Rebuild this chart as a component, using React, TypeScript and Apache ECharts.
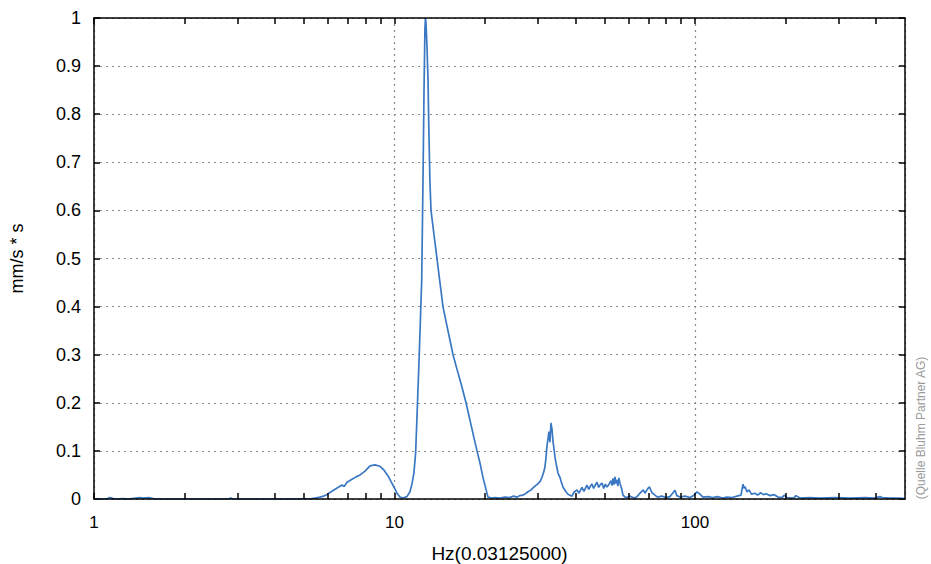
import React, { useEffect, useRef } from "react";
import * as echarts from "echarts";

// Frequency axis (log) and amplitude readings
const freqs: number[] = [
  1.0, 1.1, 1.13, 1.16, 1.2, 1.25, 1.3, 1.42, 1.46, 1.52, 1.6, 2.0, 2.8, 2.85, 2.9, 3.5, 4.5,
  5.3, 5.44, 5.65, 5.8, 5.96, 6.19, 6.44, 6.69, 6.8, 6.95, 7.22, 7.45, 7.68, 7.98, 8.29, 8.61,
  8.95, 9.23, 9.52, 9.74, 9.96, 10.19, 10.43, 10.67, 11.0, 11.26, 11.44, 11.61, 11.76, 11.88,
  12.09, 12.32, 12.44, 12.54, 12.63, 12.68, 12.73, 12.83, 12.93, 13.02, 13.12, 13.23, 13.53,
  13.85, 14.17, 14.5, 14.95, 15.3, 15.66, 16.14, 16.65, 17.3, 17.83, 18.39, 18.82, 19.25, 19.7,
  20.16, 20.47, 21.1, 21.6, 22.4, 23.3, 24.2, 24.9, 25.6, 26.1, 26.8, 27.4, 27.8, 28.5, 28.9,
  29.35, 29.8, 30.5, 30.97, 31.45, 31.68, 31.92, 32.17, 32.42, 32.66, 32.92, 33.17, 33.43,
  33.69, 33.94, 34.2, 34.47, 35.0, 35.54, 35.8, 36.37, 37.21, 37.8, 38.37, 38.96, 39.56, 40.5,
  41.1, 42.07, 42.7, 43.71, 44.3, 44.8, 45.42, 46.0, 46.5, 47.2, 47.8, 48.4, 49.03, 49.7,
  50.3, 50.95, 51.7, 52.54, 53.0, 53.35, 53.8, 54.19, 54.6, 55.0, 55.4, 55.8, 56.28, 57.1,
  57.6, 58.5, 59.37, 60.6, 61.7, 63.0, 64.12, 65.4, 67.3, 68.17, 69.75, 70.6, 71.8, 73.6,
  75.0, 77.6, 80.0, 82.55, 84.3, 85.78, 87.0, 89.15, 92.7, 96.25, 99.3, 101.6, 103.9, 106.3,
  110.3, 114.4, 118.8, 123.5, 127.9, 133.0, 138.0, 142.3, 144.5, 145.6, 146.7, 148.9, 151.3,
  154.1, 158.4, 161.7, 165.3, 168.9, 172.4, 177.7, 183.5, 189.0, 195.0, 198.3, 202.3, 213.5,
  216.5, 223.6, 240.0, 260.0, 292.0, 328.1, 367.9, 395.0, 412.7, 420.0, 445.0, 480.0, 499.0,
];

const amplitudes: number[] = [
  0, 0, 0.003, 0.001, 0, 0.001, 0, 0.003, 0.002, 0.003, 0, 0, 0, 0.002, 0, 0, 0,
  0.001, 0.002, 0.004, 0.006, 0.009, 0.016, 0.023, 0.029, 0.026, 0.035, 0.041, 0.046, 0.05,
  0.058, 0.069, 0.071, 0.068, 0.06, 0.048, 0.036, 0.025, 0.012, 0.004, 0.002, 0.005, 0.015,
  0.032, 0.055, 0.096, 0.17, 0.3, 0.455, 0.66, 0.85, 0.98, 1.0, 0.99, 0.94, 0.87, 0.76, 0.66,
  0.6, 0.55, 0.5, 0.45, 0.4, 0.36, 0.33, 0.3, 0.27, 0.24, 0.2, 0.164, 0.127, 0.1, 0.075,
  0.045, 0.02, 0.004, 0.002, 0.003, 0.002, 0.004, 0.003, 0.006, 0.004, 0.007, 0.008, 0.012,
  0.015, 0.019, 0.023, 0.027, 0.03, 0.036, 0.045, 0.058, 0.067, 0.085, 0.11, 0.125, 0.14,
  0.118, 0.158, 0.145, 0.12, 0.105, 0.088, 0.075, 0.054, 0.045, 0.038, 0.025, 0.015, 0.01,
  0.008, 0.006, 0.014, 0.019, 0.012, 0.024, 0.016, 0.029, 0.02, 0.026, 0.031, 0.022, 0.028,
  0.035, 0.024, 0.03, 0.033, 0.022, 0.031, 0.025, 0.03, 0.038, 0.028, 0.043, 0.03, 0.046,
  0.032, 0.04, 0.027, 0.044, 0.033, 0.02, 0.008, 0.004, 0.003, 0.006, 0.004, 0.002, 0.005,
  0.011, 0.019, 0.012, 0.022, 0.025, 0.014, 0.008, 0.004, 0.006, 0.003, 0.005, 0.012, 0.018,
  0.007, 0.004, 0.006, 0.003, 0.008, 0.015, 0.01, 0.004, 0.005, 0.003, 0.005, 0.002, 0.004,
  0.003, 0.006, 0.008, 0.031, 0.022, 0.026, 0.015, 0.019, 0.01, 0.012, 0.008, 0.013, 0.009,
  0.011, 0.007, 0.009, 0.004, 0.003, 0.008, 0.003, 0.002, 0.007, 0.002, 0.003, 0.002, 0.003,
  0.002, 0.003, 0.002, 0.005, 0.003, 0.002, 0.002, 0.001,
];

const xTickLabels: number[] = [1, 10, 100];
const xTickValues: number[] = [
  1, 2, 3, 4, 5, 6, 7, 8, 9, 10, 20, 30, 40, 50, 60, 70, 80, 90, 100, 200, 300, 400,
];

const xAxisTitle = "Hz(0.03125000)";
const yAxisTitle = "mm/s * s";
const sourceNote = "(Quelle Bluhm Partner AG)";

const FONT = "'Liberation Sans', Arial, sans-serif";

export default function App() {
  const ref = useRef<HTMLDivElement>(null);

  useEffect(() => {
    if (!ref.current) return;
    const chart = echarts.init(ref.current, undefined, { renderer: "svg" });

    const seriesData = freqs.map((f, i) => [f, amplitudes[i]]);

    const gridSplit = { show: true, lineStyle: { color: "#8a8a8a", type: [2, 4] as any, width: 1.2 } };
    const axisBlack = { show: true, lineStyle: { color: "#000", width: 1.5 } };
    const tickStyle = { color: "#000", width: 1.5 };

    chart.setOption({
      animation: false,
      backgroundColor: "#fff",
      grid: {
        left: 94,
        right: 26,
        top: 18,
        bottom: 65,
        containLabel: false,
        outerBoundsMode: "none",
      },
      xAxis: [
        {
          type: "log",
          logBase: 10,
          min: 1,
          max: 500,
          position: "bottom",
          z: 4,
          axisLine: { ...axisBlack, onZero: false },
          axisTick: { show: true, inside: true, length: 6, lineStyle: tickStyle, customValues: xTickValues },
          axisLabel: {
            color: "#000",
            fontSize: 17,
            fontFamily: FONT,
            margin: 15,
            customValues: xTickLabels,
            formatter: (v: number) => (xTickLabels.some((t) => Math.abs(t - v) < 1e-6) ? String(v) : ""),
          },
          splitLine: { show: false },
          name: xAxisTitle,
          nameLocation: "middle",
          nameGap: 45,
          nameTextStyle: { color: "#000", fontSize: 19, fontFamily: FONT },
        },
        {
          type: "log",
          logBase: 10,
          min: 1,
          max: 500,
          position: "top",
          z: 4,
          axisLine: { ...axisBlack, onZero: false },
          axisTick: { show: true, inside: true, length: 6, lineStyle: tickStyle, customValues: xTickValues },
          axisLabel: { show: false },
          splitLine: { show: false },
        },
        {
          type: "log",
          logBase: 10,
          min: 1,
          max: 500,
          position: "bottom",
          offset: 0,
          axisLine: { show: false, onZero: false },
          axisTick: { show: false },
          axisLabel: { show: false },
          splitLine: gridSplit,
        },
      ],
      yAxis: [
        {
          type: "value",
          min: 0,
          max: 1,
          interval: 0.1,
          position: "left",
          axisLine: axisBlack,
          axisTick: { show: true, inside: true, length: 6, lineStyle: tickStyle },
          axisLabel: { color: "#000", fontSize: 18, fontFamily: FONT, margin: 13 },
          splitLine: gridSplit,
          name: yAxisTitle,
          nameLocation: "middle",
          nameGap: 68,
          nameRotate: 90,
          nameTextStyle: { color: "#000", fontSize: 18, fontFamily: FONT },
        },
        {
          type: "value",
          min: 0,
          max: 1,
          interval: 0.1,
          position: "right",
          axisLine: axisBlack,
          axisTick: { show: true, inside: true, length: 6, lineStyle: tickStyle },
          axisLabel: { show: false },
          splitLine: { show: false },
        },
      ],
      series: [
        {
          type: "line",
          xAxisIndex: 0,
          yAxisIndex: 0,
          data: seriesData,
          showSymbol: false,
          symbol: "none",
          lineStyle: { color: "#3a78c4", width: 1.7 },
          z: 3,
        },
      ],
      graphic: [
        {
          type: "text",
          x: 921,
          y: 428,
          rotation: Math.PI / 2,
          style: {
            text: sourceNote,
            fill: "#9a9a9a",
            fontSize: 12,
            fontFamily: "'Liberation Sans Narrow', 'Liberation Sans', sans-serif",
            align: "center",
            verticalAlign: "middle",
          },
        },
      ],
    });

    return () => chart.dispose();
  }, []);

  return (
    <div
      ref={ref}
      style={{ position: "fixed", left: 0, top: 0, width: 931, height: 564, background: "#fff" }}
    />
  );
}
